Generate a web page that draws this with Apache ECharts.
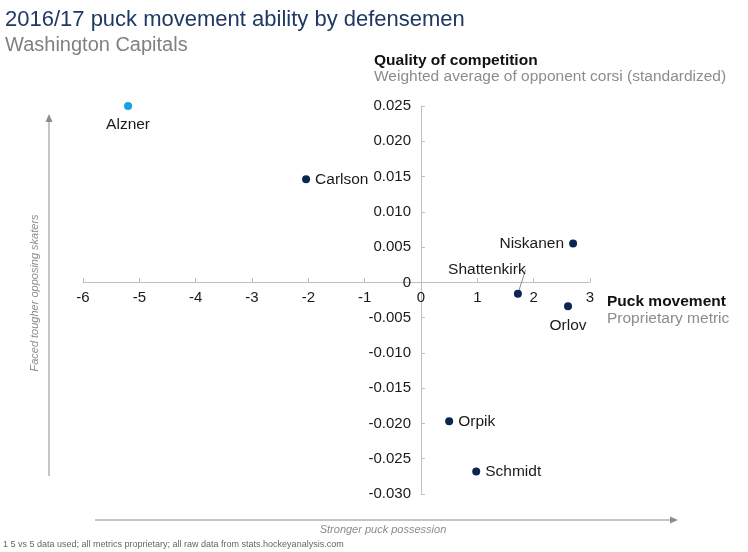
<!DOCTYPE html>
<html>
<head>
<meta charset="utf-8">
<script src="https://cdn.jsdelivr.net/npm/echarts@6/dist/echarts.min.js"></script>
<style>html,body{margin:0;padding:0;background:#fff}#c{width:748px;height:552px}</style>
</head>
<body>
<div id="c"></div>
<script>
const players = ['Alzner','Carlson','Niskanen','Shattenkirk','Orlov','Orpik','Schmidt'];
const puckMovement = [-5.20, -2.04, 2.70, 1.72, 2.61, 0.50, 0.98];
const competition = [0.0250, 0.0146, 0.0055, -0.0016, -0.0034, -0.0197, -0.0268];
const labelPos = ['bottom','right','left','top','bottom','right','right'];
const highlight = ['Alzner'];

const F = '"Liberation Sans", Arial, sans-serif';
const chart = echarts.init(document.getElementById('c'), null, {renderer:'canvas'});

const data = players.map((p, i) => {
  const item = {
    name: p,
    value: [puckMovement[i], competition[i]],
    itemStyle: {color: highlight.includes(p) ? '#13a4dd' : '#0b2650', opacity: 1},
    label: {position: labelPos[i], distance: labelPos[i] === 'bottom' ? 7 : 5}
  };
  if (p === 'Shattenkirk') {
    item.labelLine = {show: true, lineStyle: {color: '#8c8c8c', width: 1}};
  }
  return item;
});

const arrowColor = '#8c8c8c';
chart.setOption({
  animation: false,
  textStyle: {fontFamily: F},
  title: [
    {text: '2016/17 puck movement ability by defensemen', left: 5, top: 9, padding: 0,
     textStyle: {fontFamily: F, fontSize: 22, fontWeight: 'normal', color: '#1f3864'}},
    {text: 'Washington Capitals', left: 5, top: 35, padding: 0,
     textStyle: {fontFamily: F, fontSize: 20, fontWeight: 'normal', color: '#808080'}},
    {text: 'Quality of competition', left: 374, top: 53, padding: 0,
     textStyle: {fontFamily: F, fontSize: 15.5, fontWeight: 'bold', color: '#111'}},
    {text: 'Weighted average of opponent corsi (standardized)', left: 374, top: 69, padding: 0,
     textStyle: {fontFamily: F, fontSize: 15.5, fontWeight: 'normal', color: '#8c8c8c'}},
    {text: 'Puck movement', left: 607, top: 294, padding: 0,
     textStyle: {fontFamily: F, fontSize: 15.5, fontWeight: 'bold', color: '#111'}},
    {text: 'Proprietary metric', left: 607, top: 311, padding: 0,
     textStyle: {fontFamily: F, fontSize: 15.5, fontWeight: 'normal', color: '#8c8c8c'}}
  ],
  grid: {left: 83, right: 158, top: 106, bottom: 58, containLabel: false},
  xAxis: {
    type: 'value', min: -6, max: 3, interval: 1,
    position: 'bottom', offset: -212,
    splitLine: {show: false},
    axisLine: {onZero: false, lineStyle: {color: '#bfbfbf', width: 1}},
    axisTick: {show: true, inside: true, length: 4, lineStyle: {color: '#bfbfbf'}},
    axisLabel: {fontFamily: F, fontSize: 15, color: '#1a1a1a', margin: 8}
  },
  yAxis: {
    type: 'value', min: -0.03, max: 0.025, interval: 0.005,
    position: 'left', offset: -338,
    splitLine: {show: false},
    axisLine: {show: true, onZero: false, lineStyle: {color: '#bfbfbf', width: 1}},
    axisTick: {show: true, inside: true, length: 4, lineStyle: {color: '#bfbfbf'}},
    axisLabel: {fontFamily: F, fontSize: 15, color: '#1a1a1a', margin: 10,
      formatter: v => Math.abs(v) < 1e-9 ? '0' : v.toFixed(3)}
  },
  series: [{
    type: 'scatter',
    symbolSize: 8,
    data: data,
    label: {show: true, formatter: '{b}', fontFamily: F, fontSize: 15.5, color: '#1a1a1a', distance: 5},
    labelLine: {show: false, lineStyle: {color: '#8c8c8c', width: 1}},
    labelLayout: function (params) {
      if (params.dataIndex === players.indexOf('Shattenkirk')) {
        const dx = -31, dy = -7;
        const lr = params.labelRect, r = params.rect;
        const cx = r.x + r.width / 2, cy = r.y + r.height / 2;
        return {
          dx: dx, dy: dy,
          labelLinePoints: [
            [lr.x + dx + lr.width * 0.66, lr.y + dy + lr.height + 1],
            [(lr.x + dx + lr.width * 0.66 + cx - 3.5) / 2, (lr.y + dy + lr.height + 1 + cy - 4) / 2],
            [cx - 3.5, cy - 4]
          ]
        };
      }
      return {};
    }
  }],
  graphic: [
    {type: 'line', shape: {x1: 49, y1: 476, x2: 49, y2: 122}, style: {stroke: arrowColor, lineWidth: 1}},
    {type: 'polygon', shape: {points: [[45.5, 122], [52.5, 122], [49, 114]]}, style: {fill: arrowColor}},
    {type: 'line', shape: {x1: 95, y1: 520, x2: 670, y2: 520}, style: {stroke: arrowColor, lineWidth: 1}},
    {type: 'polygon', shape: {points: [[670, 516.5], [670, 523.5], [678, 520]]}, style: {fill: arrowColor}},
    {type: 'text', x: 35, y: 293, rotation: Math.PI / 2,
     style: {text: 'Faced tougher opposing skaters', fontFamily: F, fontSize: 11, fontStyle: 'italic',
             fill: '#8c8c8c', align: 'center', verticalAlign: 'middle'}},
    {type: 'text', x: 383, y: 530,
     style: {text: 'Stronger puck possession', fontFamily: F, fontSize: 11, fontStyle: 'italic',
             fill: '#8c8c8c', align: 'center', verticalAlign: 'middle'}},
    {type: 'text', x: 3, y: 545,
     style: {text: '1 5 vs 5 data used; all metrics proprietary; all raw data from stats.hockeyanalysis.com',
             fontFamily: F, fontSize: 9, fill: '#666', align: 'left', verticalAlign: 'middle'}}
  ]
});
</script>
</body>
</html>
